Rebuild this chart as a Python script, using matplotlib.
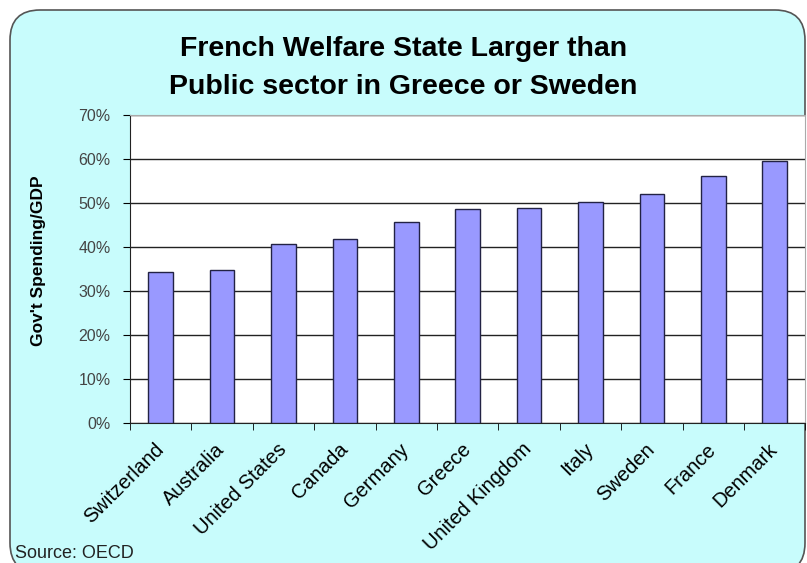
import numpy as np
import matplotlib.pyplot as plt
from matplotlib.patches import FancyBboxPatch

countries = ['Switzerland', 'Australia', 'United States', 'Canada', 'Germany', 'Greece',
             'United Kingdom', 'Italy', 'Sweden', 'France', 'Denmark']
spending = [34.2, 34.8, 40.6, 41.8, 45.6, 48.5, 48.8, 50.1, 52.1, 56.1, 59.5]
yticks = [0, 10, 20, 30, 40, 50, 60, 70]

plt.rcParams['font.family'] = ['Liberation Sans', 'DejaVu Sans']
fig = plt.figure(figsize=(8.07, 5.63), dpi=100)
fig.patch.set_facecolor('white')

# rounded chart area (inches)
box = FancyBboxPatch((0.10, -0.10), 7.95, 5.63, boxstyle='round,pad=0,rounding_size=0.3',
                     transform=fig.dpi_scale_trans, facecolor='#c8fcfc', edgecolor='#555555',
                     linewidth=1.2, zorder=0)
fig.patches.append(box)

ax = fig.add_axes([0.161, 0.249, 0.837, 0.547], zorder=2)
ax.set_facecolor('white')
x = np.arange(len(countries))
ax.bar(x, spending, width=0.4, color='#9999ff', edgecolor='#222244', linewidth=1.0, zorder=3)
ax.set_xlim(-0.5, len(countries) - 0.5)
ax.set_ylim(0, 70)
ax.set_yticks(yticks)
ax.set_yticklabels([f'{v}%' for v in yticks], fontsize=11.5, color='#444444')
ax.set_xticks(x)
ax.set_xticklabels(countries, rotation=45, ha='right', va='center', rotation_mode='anchor',
                   fontsize=14.5)
ax.set_xticks(np.arange(len(countries) + 1) - 0.5, minor=True)
ax.tick_params(axis='x', which='major', length=0, pad=17)
ax.tick_params(axis='x', which='minor', length=5, direction='out', color='black')
ax.tick_params(axis='y', length=5, direction='out', pad=9)
ax.yaxis.grid(True, color='#222222', linewidth=1.0, zorder=1)
ax.set_axisbelow(True)
for s in ['top', 'right']:
    ax.spines[s].set_color('#aaaaaa')
ax.spines['left'].set_color('#222222')
ax.spines['bottom'].set_color('#222222')
ax.set_ylabel("Gov't Spending/GDP", fontsize=12.5, fontweight='bold')
ax.yaxis.set_label_coords(-0.124, 0.526)

fig.text(0.5, 1 - 49 / 563, 'French Welfare State Larger than', ha='center', va='center',
         fontsize=20.5, fontweight='bold')
fig.text(0.5, 1 - 87 / 563, 'Public sector in Greece or Sweden', ha='center', va='center',
         fontsize=20.5, fontweight='bold')
fig.text(15 / 807, 1 - 553 / 563, 'Source: OECD', ha='left', va='center', fontsize=13,
         color='#222222')

fig.savefig('out.png', dpi=100)
